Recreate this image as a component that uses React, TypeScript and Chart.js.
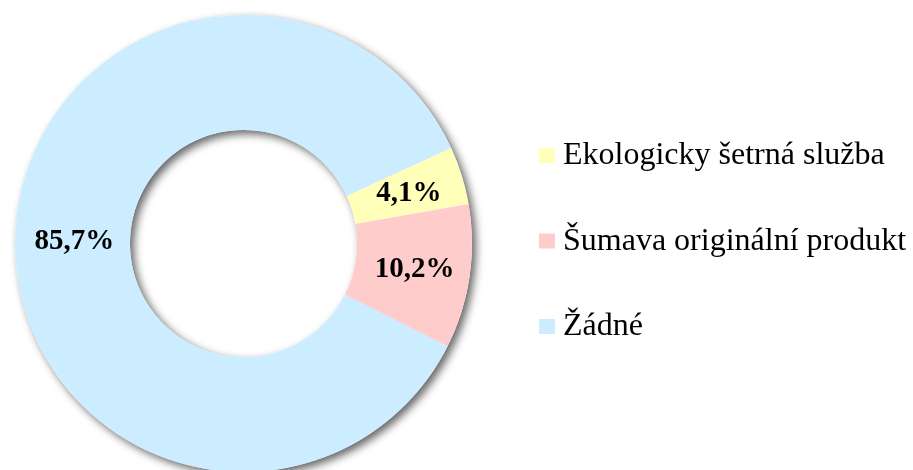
import React, { useEffect, useRef } from "react";
import { Chart, registerables } from "chart.js";

Chart.register(...registerables);

const categories = ["Ekologicky šetrná služba", "Šumava originální produkt", "Žádné"];
const values = [4.1, 10.2, 85.7];
const colors = ["#FFFFB9", "#FFCCCC", "#CCECFF"];

const SERIF = '"Liberation Serif", "Times New Roman", serif';

const shadowPlugin = {
  id: "ringShadow",
  beforeDatasetsDraw(chart: any) {
    const meta = chart.getDatasetMeta(0);
    const a = meta.data[0];
    if (!a) return;
    const { x, y, outerRadius, innerRadius } = a;
    const ctx = chart.ctx;
    ctx.save();
    ctx.shadowColor = "rgba(0,0,0,0.6)";
    ctx.shadowBlur = 8;
    ctx.shadowOffsetX = 4;
    ctx.shadowOffsetY = 4;
    ctx.beginPath();
    ctx.arc(x, y, outerRadius, 0, Math.PI * 2, false);
    ctx.arc(x, y, innerRadius, Math.PI * 2, 0, true);
    ctx.closePath();
    ctx.fillStyle = "#ffffff";
    ctx.fill("evenodd");
    ctx.restore();
  },
};

const labelPlugin = {
  id: "valueLabels",
  afterDatasetsDraw(chart: any) {
    const ctx = chart.ctx;
    const meta = chart.getDatasetMeta(0);
    ctx.save();
    ctx.font = `bold 29px ${SERIF}`;
    ctx.fillStyle = "#000";
    ctx.textAlign = "center";
    ctx.textBaseline = "middle";
    meta.data.forEach((arc: any, i: number) => {
      const p = arc.tooltipPosition();
      const txt = values[i].toFixed(1).replace(".", ",") + "%";
      ctx.fillText(txt, p.x + 2, p.y + 1);
    });
    ctx.restore();
  },
};

const legendPlugin = {
  id: "sideLegend",
  afterDraw(chart: any) {
    const ctx = chart.ctx;
    ctx.save();
    ctx.font = `32px ${SERIF}`;
    ctx.textAlign = "left";
    ctx.textBaseline = "alphabetic";
    const x0 = 539;
    const baseY = 164;
    const step = 85.5;
    categories.forEach((c, i) => {
      const by = baseY + i * step;
      ctx.fillStyle = colors[i];
      ctx.fillRect(x0, by - 16, 16, 15);
      ctx.fillStyle = "#000";
      ctx.fillText(c, x0 + 24, by);
    });
    ctx.restore();
  },
};

export default function App() {
  const ref = useRef<HTMLCanvasElement>(null);
  useEffect(() => {
    if (!ref.current) return;
    const chart = new Chart(ref.current, {
      type: "doughnut",
      data: {
        labels: categories,
        datasets: [
          {
            data: values,
            backgroundColor: colors,
            borderWidth: 0,
            hoverOffset: 0,
          },
        ],
      },
      options: {
        animation: false,
        responsive: false,
        maintainAspectRatio: false,
        cutout: "49.7%",
        rotation: 65.3,
        layout: { padding: { left: 15, top: 15, right: 441, bottom: 18 } },
        plugins: {
          legend: { display: false },
          tooltip: { enabled: false },
        },
        events: [],
      },
      plugins: [shadowPlugin, labelPlugin, legendPlugin],
    });
    return () => chart.destroy();
  }, []);
  return (
    <div
      style={{
        position: "fixed",
        left: 0,
        top: 0,
        width: 913,
        height: 470,
        overflow: "hidden",
        background: "#fff",
      }}
    >
      <canvas ref={ref} width={913} height={490} style={{ display: "block", width: 913, height: 490 }} />
    </div>
  );
}
